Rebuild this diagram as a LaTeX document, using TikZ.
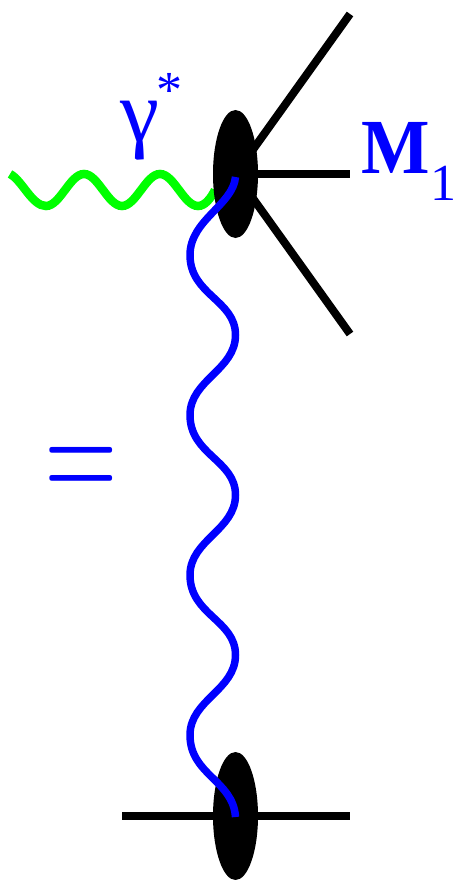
\documentclass[tikz,border=0pt]{standalone}
\usepackage{fontspec}
\setmainfont{Liberation Serif}
\usetikzlibrary{shapes.geometric}
\definecolor{pureblue}{RGB}{0,0,255}
\definecolor{puregreen}{RGB}{0,255,0}
\tikzset{
  px/.style={x=1pt,y=-1pt},
  blob/.style={ellipse,fill=black,draw=none,minimum width=45pt,minimum height=128pt,inner sep=0pt},
  leg/.style={draw=black,line width=8pt},
  bluewave/.style={draw=pureblue,line width=7.5pt},
  greenwave/.style={draw=puregreen,line width=8.5pt},
  lab/.style={text=pureblue,inner sep=0pt,anchor=base west}
}
\begin{document}
\begin{tikzpicture}[px]
\useasboundingbox (0,0) rectangle (456,880);
\coordinate (c1) at (235.5,174);
\coordinate (c2) at (235.5,816);
\coordinate (e1) at (350,14);
\coordinate (e2) at (350,174);
\coordinate (e3) at (350,334);
\coordinate (l) at (122,816);
\coordinate (r) at (350,816);
\coordinate (g0) at (10,174);
\coordinate (g5) at (215,190);
\coordinate (b0) at (235.5,177);
\coordinate (b9) at (235.5,817);
\draw[leg] (c1) -- (e1);
\draw[leg] (c1) -- (e2);
\draw[leg] (c1) -- (e3);
\draw[leg] (l) -- (r);
\draw[greenwave] (g0) .. controls (22,180) and (32,206) .. (46,206)
  .. controls (60,206) and (70,174) .. (84,174)
  .. controls (98,174) and (108,206) .. (122,206)
  .. controls (136,206) and (146,174) .. (160,174)
  .. controls (174,174) and (184,206) .. (198,206)
  .. controls (205,206) and (211,198) .. (g5);
\node[blob] (top) at (c1) {};
\node[blob] (bot) at (c2) {};
\draw[bluewave] (b0) .. controls (233,205) and (190,220) .. (190,255)
  .. controls (190,295) and (235.5,300) .. (235.5,335)
  .. controls (235.5,370) and (190,380) .. (190,415)
  .. controls (190,455) and (235.5,460) .. (235.5,495)
  .. controls (235.5,530) and (190,540) .. (190,575)
  .. controls (190,615) and (235.5,620) .. (235.5,655)
  .. controls (235.5,690) and (190,700) .. (190,735)
  .. controls (190,775) and (233,780) .. (b9);
\node[lab,font=\fontsize{88}{88}\selectfont] (gam) at (120,142) {γ};
\node[lab,font=\fontsize{52}{52}\selectfont] (star) at (156.5,107) {*};
\node[lab,font=\bfseries\fontsize{78}{78}\selectfont] (M) at (361,173) {\scalebox{0.93}[1]{M}};
\node[lab,font=\fontsize{52}{52}\selectfont] (one) at (430,200) {1};
\node[lab] (eq) at (44.7,500) {\scalebox{9.45}[14.46]{$=$}};
\end{tikzpicture}
\end{document}
